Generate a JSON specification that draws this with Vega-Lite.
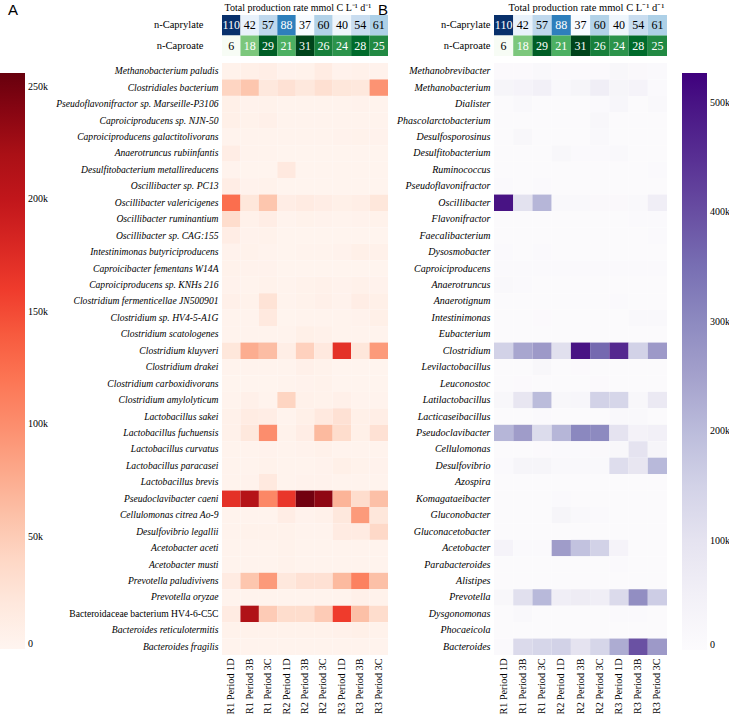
{
"$schema":"https://vega.github.io/schema/vega-lite/v6.json",
"padding":{"left":0,"top":2,"right":0,"bottom":0},
"config":{"font":"Liberation Serif","view":{"stroke":null},
"axis":{"labelFont":"Liberation Serif","titleFont":"Liberation Serif","labelColor":"#000","titleColor":"#000","ticks":false,"domain":false,"grid":false},
"legend":{"labelFont":"Liberation Serif","labelColor":"#000"},
"title":{"font":"Liberation Sans","fontWeight":"normal","fontSize":15,"color":"#000"}},
"datasets":{
"top":[
{"r":"n-Caprylate","p":"R1 Period 1D","v":110},{"r":"n-Caprylate","p":"R1 Period 3B","v":42},{"r":"n-Caprylate","p":"R1 Period 3C","v":57},{"r":"n-Caprylate","p":"R2 Period 1D","v":88},{"r":"n-Caprylate","p":"R2 Period 3B","v":37},{"r":"n-Caprylate","p":"R2 Period 3C","v":60},{"r":"n-Caprylate","p":"R3 Period 1D","v":40},{"r":"n-Caprylate","p":"R3 Period 3B","v":54},{"r":"n-Caprylate","p":"R3 Period 3C","v":61},
{"r":"n-Caproate","p":"R1 Period 1D","v":6},{"r":"n-Caproate","p":"R1 Period 3B","v":18},{"r":"n-Caproate","p":"R1 Period 3C","v":29},{"r":"n-Caproate","p":"R2 Period 1D","v":21},{"r":"n-Caproate","p":"R2 Period 3B","v":31},{"r":"n-Caproate","p":"R2 Period 3C","v":26},{"r":"n-Caproate","p":"R3 Period 1D","v":24},{"r":"n-Caproate","p":"R3 Period 3B","v":28},{"r":"n-Caproate","p":"R3 Period 3C","v":25}],
"a":[
{"sp":"Methanobacterium paludis","p":"R1 Period 1D","v":5},{"sp":"Methanobacterium paludis","p":"R1 Period 3B","v":8},{"sp":"Methanobacterium paludis","p":"R1 Period 3C","v":10},{"sp":"Methanobacterium paludis","p":"R2 Period 1D","v":4},{"sp":"Methanobacterium paludis","p":"R2 Period 3B","v":5},{"sp":"Methanobacterium paludis","p":"R2 Period 3C","v":14},{"sp":"Methanobacterium paludis","p":"R3 Period 1D","v":4},{"sp":"Methanobacterium paludis","p":"R3 Period 3B","v":6},{"sp":"Methanobacterium paludis","p":"R3 Period 3C","v":4},
{"sp":"Clostridiales bacterium","p":"R1 Period 1D","v":42},{"sp":"Clostridiales bacterium","p":"R1 Period 3B","v":55},{"sp":"Clostridiales bacterium","p":"R1 Period 3C","v":20},{"sp":"Clostridiales bacterium","p":"R2 Period 1D","v":30},{"sp":"Clostridiales bacterium","p":"R2 Period 3B","v":20},{"sp":"Clostridiales bacterium","p":"R2 Period 3C","v":32},{"sp":"Clostridiales bacterium","p":"R3 Period 1D","v":22},{"sp":"Clostridiales bacterium","p":"R3 Period 3B","v":20},{"sp":"Clostridiales bacterium","p":"R3 Period 3C","v":95},
{"sp":"Pseudoflavonifractor sp. Marseille-P3106","p":"R1 Period 1D","v":8},{"sp":"Pseudoflavonifractor sp. Marseille-P3106","p":"R1 Period 3B","v":4},{"sp":"Pseudoflavonifractor sp. Marseille-P3106","p":"R1 Period 3C","v":5},{"sp":"Pseudoflavonifractor sp. Marseille-P3106","p":"R2 Period 1D","v":3},{"sp":"Pseudoflavonifractor sp. Marseille-P3106","p":"R2 Period 3B","v":3},{"sp":"Pseudoflavonifractor sp. Marseille-P3106","p":"R2 Period 3C","v":3},{"sp":"Pseudoflavonifractor sp. Marseille-P3106","p":"R3 Period 1D","v":3},{"sp":"Pseudoflavonifractor sp. Marseille-P3106","p":"R3 Period 3B","v":4},{"sp":"Pseudoflavonifractor sp. Marseille-P3106","p":"R3 Period 3C","v":3},
{"sp":"Caproiciproducens sp. NJN-50","p":"R1 Period 1D","v":8},{"sp":"Caproiciproducens sp. NJN-50","p":"R1 Period 3B","v":5},{"sp":"Caproiciproducens sp. NJN-50","p":"R1 Period 3C","v":7},{"sp":"Caproiciproducens sp. NJN-50","p":"R2 Period 1D","v":3},{"sp":"Caproiciproducens sp. NJN-50","p":"R2 Period 3B","v":3},{"sp":"Caproiciproducens sp. NJN-50","p":"R2 Period 3C","v":3},{"sp":"Caproiciproducens sp. NJN-50","p":"R3 Period 1D","v":3},{"sp":"Caproiciproducens sp. NJN-50","p":"R3 Period 3B","v":3},{"sp":"Caproiciproducens sp. NJN-50","p":"R3 Period 3C","v":3},
{"sp":"Caproiciproducens galactitolivorans","p":"R1 Period 1D","v":3},{"sp":"Caproiciproducens galactitolivorans","p":"R1 Period 3B","v":3},{"sp":"Caproiciproducens galactitolivorans","p":"R1 Period 3C","v":3},{"sp":"Caproiciproducens galactitolivorans","p":"R2 Period 1D","v":3},{"sp":"Caproiciproducens galactitolivorans","p":"R2 Period 3B","v":3},{"sp":"Caproiciproducens galactitolivorans","p":"R2 Period 3C","v":3},{"sp":"Caproiciproducens galactitolivorans","p":"R3 Period 1D","v":4},{"sp":"Caproiciproducens galactitolivorans","p":"R3 Period 3B","v":5},{"sp":"Caproiciproducens galactitolivorans","p":"R3 Period 3C","v":4},
{"sp":"Anaerotruncus rubiinfantis","p":"R1 Period 1D","v":12},{"sp":"Anaerotruncus rubiinfantis","p":"R1 Period 3B","v":3},{"sp":"Anaerotruncus rubiinfantis","p":"R1 Period 3C","v":3},{"sp":"Anaerotruncus rubiinfantis","p":"R2 Period 1D","v":2},{"sp":"Anaerotruncus rubiinfantis","p":"R2 Period 3B","v":2},{"sp":"Anaerotruncus rubiinfantis","p":"R2 Period 3C","v":2},{"sp":"Anaerotruncus rubiinfantis","p":"R3 Period 1D","v":2},{"sp":"Anaerotruncus rubiinfantis","p":"R3 Period 3B","v":2},{"sp":"Anaerotruncus rubiinfantis","p":"R3 Period 3C","v":2},
{"sp":"Desulfitobacterium metallireducens","p":"R1 Period 1D","v":3},{"sp":"Desulfitobacterium metallireducens","p":"R1 Period 3B","v":2},{"sp":"Desulfitobacterium metallireducens","p":"R1 Period 3C","v":2},{"sp":"Desulfitobacterium metallireducens","p":"R2 Period 1D","v":18},{"sp":"Desulfitobacterium metallireducens","p":"R2 Period 3B","v":2},{"sp":"Desulfitobacterium metallireducens","p":"R2 Period 3C","v":2},{"sp":"Desulfitobacterium metallireducens","p":"R3 Period 1D","v":2},{"sp":"Desulfitobacterium metallireducens","p":"R3 Period 3B","v":2},{"sp":"Desulfitobacterium metallireducens","p":"R3 Period 3C","v":2},
{"sp":"Oscillibacter sp. PC13","p":"R1 Period 1D","v":12},{"sp":"Oscillibacter sp. PC13","p":"R1 Period 3B","v":4},{"sp":"Oscillibacter sp. PC13","p":"R1 Period 3C","v":5},{"sp":"Oscillibacter sp. PC13","p":"R2 Period 1D","v":2},{"sp":"Oscillibacter sp. PC13","p":"R2 Period 3B","v":2},{"sp":"Oscillibacter sp. PC13","p":"R2 Period 3C","v":2},{"sp":"Oscillibacter sp. PC13","p":"R3 Period 1D","v":2},{"sp":"Oscillibacter sp. PC13","p":"R3 Period 3B","v":2},{"sp":"Oscillibacter sp. PC13","p":"R3 Period 3C","v":2},
{"sp":"Oscillibacter valericigenes","p":"R1 Period 1D","v":125},{"sp":"Oscillibacter valericigenes","p":"R1 Period 3B","v":22},{"sp":"Oscillibacter valericigenes","p":"R1 Period 3C","v":55},{"sp":"Oscillibacter valericigenes","p":"R2 Period 1D","v":12},{"sp":"Oscillibacter valericigenes","p":"R2 Period 3B","v":15},{"sp":"Oscillibacter valericigenes","p":"R2 Period 3C","v":12},{"sp":"Oscillibacter valericigenes","p":"R3 Period 1D","v":8},{"sp":"Oscillibacter valericigenes","p":"R3 Period 3B","v":10},{"sp":"Oscillibacter valericigenes","p":"R3 Period 3C","v":22},
{"sp":"Oscillibacter ruminantium","p":"R1 Period 1D","v":35},{"sp":"Oscillibacter ruminantium","p":"R1 Period 3B","v":6},{"sp":"Oscillibacter ruminantium","p":"R1 Period 3C","v":12},{"sp":"Oscillibacter ruminantium","p":"R2 Period 1D","v":3},{"sp":"Oscillibacter ruminantium","p":"R2 Period 3B","v":5},{"sp":"Oscillibacter ruminantium","p":"R2 Period 3C","v":4},{"sp":"Oscillibacter ruminantium","p":"R3 Period 1D","v":3},{"sp":"Oscillibacter ruminantium","p":"R3 Period 3B","v":4},{"sp":"Oscillibacter ruminantium","p":"R3 Period 3C","v":5},
{"sp":"Oscillibacter sp. CAG:155","p":"R1 Period 1D","v":12},{"sp":"Oscillibacter sp. CAG:155","p":"R1 Period 3B","v":4},{"sp":"Oscillibacter sp. CAG:155","p":"R1 Period 3C","v":5},{"sp":"Oscillibacter sp. CAG:155","p":"R2 Period 1D","v":2},{"sp":"Oscillibacter sp. CAG:155","p":"R2 Period 3B","v":2},{"sp":"Oscillibacter sp. CAG:155","p":"R2 Period 3C","v":2},{"sp":"Oscillibacter sp. CAG:155","p":"R3 Period 1D","v":2},{"sp":"Oscillibacter sp. CAG:155","p":"R3 Period 3B","v":2},{"sp":"Oscillibacter sp. CAG:155","p":"R3 Period 3C","v":2},
{"sp":"Intestinimonas butyriciproducens","p":"R1 Period 1D","v":4},{"sp":"Intestinimonas butyriciproducens","p":"R1 Period 3B","v":5},{"sp":"Intestinimonas butyriciproducens","p":"R1 Period 3C","v":3},{"sp":"Intestinimonas butyriciproducens","p":"R2 Period 1D","v":2},{"sp":"Intestinimonas butyriciproducens","p":"R2 Period 3B","v":3},{"sp":"Intestinimonas butyriciproducens","p":"R2 Period 3C","v":3},{"sp":"Intestinimonas butyriciproducens","p":"R3 Period 1D","v":4},{"sp":"Intestinimonas butyriciproducens","p":"R3 Period 3B","v":8},{"sp":"Intestinimonas butyriciproducens","p":"R3 Period 3C","v":6},
{"sp":"Caproicibacter fementans W14A","p":"R1 Period 1D","v":5},{"sp":"Caproicibacter fementans W14A","p":"R1 Period 3B","v":4},{"sp":"Caproicibacter fementans W14A","p":"R1 Period 3C","v":4},{"sp":"Caproicibacter fementans W14A","p":"R2 Period 1D","v":2},{"sp":"Caproicibacter fementans W14A","p":"R2 Period 3B","v":2},{"sp":"Caproicibacter fementans W14A","p":"R2 Period 3C","v":2},{"sp":"Caproicibacter fementans W14A","p":"R3 Period 1D","v":2},{"sp":"Caproicibacter fementans W14A","p":"R3 Period 3B","v":2},{"sp":"Caproicibacter fementans W14A","p":"R3 Period 3C","v":2},
{"sp":"Caproiciproducens sp. KNHs 216","p":"R1 Period 1D","v":4},{"sp":"Caproiciproducens sp. KNHs 216","p":"R1 Period 3B","v":3},{"sp":"Caproiciproducens sp. KNHs 216","p":"R1 Period 3C","v":5},{"sp":"Caproiciproducens sp. KNHs 216","p":"R2 Period 1D","v":3},{"sp":"Caproiciproducens sp. KNHs 216","p":"R2 Period 3B","v":5},{"sp":"Caproiciproducens sp. KNHs 216","p":"R2 Period 3C","v":6},{"sp":"Caproiciproducens sp. KNHs 216","p":"R3 Period 1D","v":4},{"sp":"Caproiciproducens sp. KNHs 216","p":"R3 Period 3B","v":6},{"sp":"Caproiciproducens sp. KNHs 216","p":"R3 Period 3C","v":4},
{"sp":"Clostridium fermenticellae JN500901","p":"R1 Period 1D","v":7},{"sp":"Clostridium fermenticellae JN500901","p":"R1 Period 3B","v":5},{"sp":"Clostridium fermenticellae JN500901","p":"R1 Period 3C","v":28},{"sp":"Clostridium fermenticellae JN500901","p":"R2 Period 1D","v":3},{"sp":"Clostridium fermenticellae JN500901","p":"R2 Period 3B","v":5},{"sp":"Clostridium fermenticellae JN500901","p":"R2 Period 3C","v":7},{"sp":"Clostridium fermenticellae JN500901","p":"R3 Period 1D","v":4},{"sp":"Clostridium fermenticellae JN500901","p":"R3 Period 3B","v":12},{"sp":"Clostridium fermenticellae JN500901","p":"R3 Period 3C","v":8},
{"sp":"Clostridium sp. HV4-5-A1G","p":"R1 Period 1D","v":3},{"sp":"Clostridium sp. HV4-5-A1G","p":"R1 Period 3B","v":3},{"sp":"Clostridium sp. HV4-5-A1G","p":"R1 Period 3C","v":18},{"sp":"Clostridium sp. HV4-5-A1G","p":"R2 Period 1D","v":2},{"sp":"Clostridium sp. HV4-5-A1G","p":"R2 Period 3B","v":3},{"sp":"Clostridium sp. HV4-5-A1G","p":"R2 Period 3C","v":3},{"sp":"Clostridium sp. HV4-5-A1G","p":"R3 Period 1D","v":3},{"sp":"Clostridium sp. HV4-5-A1G","p":"R3 Period 3B","v":4},{"sp":"Clostridium sp. HV4-5-A1G","p":"R3 Period 3C","v":8},
{"sp":"Clostridium scatologenes","p":"R1 Period 1D","v":3},{"sp":"Clostridium scatologenes","p":"R1 Period 3B","v":3},{"sp":"Clostridium scatologenes","p":"R1 Period 3C","v":3},{"sp":"Clostridium scatologenes","p":"R2 Period 1D","v":3},{"sp":"Clostridium scatologenes","p":"R2 Period 3B","v":8},{"sp":"Clostridium scatologenes","p":"R2 Period 3C","v":6},{"sp":"Clostridium scatologenes","p":"R3 Period 1D","v":3},{"sp":"Clostridium scatologenes","p":"R3 Period 3B","v":3},{"sp":"Clostridium scatologenes","p":"R3 Period 3C","v":3},
{"sp":"Clostridium kluyveri","p":"R1 Period 1D","v":22},{"sp":"Clostridium kluyveri","p":"R1 Period 3B","v":75},{"sp":"Clostridium kluyveri","p":"R1 Period 3C","v":62},{"sp":"Clostridium kluyveri","p":"R2 Period 1D","v":10},{"sp":"Clostridium kluyveri","p":"R2 Period 3B","v":45},{"sp":"Clostridium kluyveri","p":"R2 Period 3C","v":18},{"sp":"Clostridium kluyveri","p":"R3 Period 1D","v":170},{"sp":"Clostridium kluyveri","p":"R3 Period 3B","v":22},{"sp":"Clostridium kluyveri","p":"R3 Period 3C","v":90},
{"sp":"Clostridium drakei","p":"R1 Period 1D","v":3},{"sp":"Clostridium drakei","p":"R1 Period 3B","v":3},{"sp":"Clostridium drakei","p":"R1 Period 3C","v":3},{"sp":"Clostridium drakei","p":"R2 Period 1D","v":3},{"sp":"Clostridium drakei","p":"R2 Period 3B","v":7},{"sp":"Clostridium drakei","p":"R2 Period 3C","v":5},{"sp":"Clostridium drakei","p":"R3 Period 1D","v":2},{"sp":"Clostridium drakei","p":"R3 Period 3B","v":2},{"sp":"Clostridium drakei","p":"R3 Period 3C","v":2},
{"sp":"Clostridium carboxidivorans","p":"R1 Period 1D","v":2},{"sp":"Clostridium carboxidivorans","p":"R1 Period 3B","v":2},{"sp":"Clostridium carboxidivorans","p":"R1 Period 3C","v":2},{"sp":"Clostridium carboxidivorans","p":"R2 Period 1D","v":3},{"sp":"Clostridium carboxidivorans","p":"R2 Period 3B","v":4},{"sp":"Clostridium carboxidivorans","p":"R2 Period 3C","v":5},{"sp":"Clostridium carboxidivorans","p":"R3 Period 1D","v":2},{"sp":"Clostridium carboxidivorans","p":"R3 Period 3B","v":2},{"sp":"Clostridium carboxidivorans","p":"R3 Period 3C","v":2},
{"sp":"Clostridium amylolyticum","p":"R1 Period 1D","v":3},{"sp":"Clostridium amylolyticum","p":"R1 Period 3B","v":7},{"sp":"Clostridium amylolyticum","p":"R1 Period 3C","v":3},{"sp":"Clostridium amylolyticum","p":"R2 Period 1D","v":42},{"sp":"Clostridium amylolyticum","p":"R2 Period 3B","v":6},{"sp":"Clostridium amylolyticum","p":"R2 Period 3C","v":5},{"sp":"Clostridium amylolyticum","p":"R3 Period 1D","v":7},{"sp":"Clostridium amylolyticum","p":"R3 Period 3B","v":3},{"sp":"Clostridium amylolyticum","p":"R3 Period 3C","v":3},
{"sp":"Lactobacillus sakei","p":"R1 Period 1D","v":6},{"sp":"Lactobacillus sakei","p":"R1 Period 3B","v":14},{"sp":"Lactobacillus sakei","p":"R1 Period 3C","v":12},{"sp":"Lactobacillus sakei","p":"R2 Period 1D","v":3},{"sp":"Lactobacillus sakei","p":"R2 Period 3B","v":8},{"sp":"Lactobacillus sakei","p":"R2 Period 3C","v":18},{"sp":"Lactobacillus sakei","p":"R3 Period 1D","v":30},{"sp":"Lactobacillus sakei","p":"R3 Period 3B","v":8},{"sp":"Lactobacillus sakei","p":"R3 Period 3C","v":10},
{"sp":"Lactobacillus fuchuensis","p":"R1 Period 1D","v":6},{"sp":"Lactobacillus fuchuensis","p":"R1 Period 3B","v":20},{"sp":"Lactobacillus fuchuensis","p":"R1 Period 3C","v":100},{"sp":"Lactobacillus fuchuensis","p":"R2 Period 1D","v":5},{"sp":"Lactobacillus fuchuensis","p":"R2 Period 3B","v":12},{"sp":"Lactobacillus fuchuensis","p":"R2 Period 3C","v":65},{"sp":"Lactobacillus fuchuensis","p":"R3 Period 1D","v":35},{"sp":"Lactobacillus fuchuensis","p":"R3 Period 3B","v":8},{"sp":"Lactobacillus fuchuensis","p":"R3 Period 3C","v":30},
{"sp":"Lactobacillus curvatus","p":"R1 Period 1D","v":3},{"sp":"Lactobacillus curvatus","p":"R1 Period 3B","v":3},{"sp":"Lactobacillus curvatus","p":"R1 Period 3C","v":4},{"sp":"Lactobacillus curvatus","p":"R2 Period 1D","v":3},{"sp":"Lactobacillus curvatus","p":"R2 Period 3B","v":4},{"sp":"Lactobacillus curvatus","p":"R2 Period 3C","v":6},{"sp":"Lactobacillus curvatus","p":"R3 Period 1D","v":3},{"sp":"Lactobacillus curvatus","p":"R3 Period 3B","v":3},{"sp":"Lactobacillus curvatus","p":"R3 Period 3C","v":3},
{"sp":"Lactobacillus paracasei","p":"R1 Period 1D","v":3},{"sp":"Lactobacillus paracasei","p":"R1 Period 3B","v":3},{"sp":"Lactobacillus paracasei","p":"R1 Period 3C","v":5},{"sp":"Lactobacillus paracasei","p":"R2 Period 1D","v":3},{"sp":"Lactobacillus paracasei","p":"R2 Period 3B","v":3},{"sp":"Lactobacillus paracasei","p":"R2 Period 3C","v":4},{"sp":"Lactobacillus paracasei","p":"R3 Period 1D","v":8},{"sp":"Lactobacillus paracasei","p":"R3 Period 3B","v":5},{"sp":"Lactobacillus paracasei","p":"R3 Period 3C","v":4},
{"sp":"Lactobacillus brevis","p":"R1 Period 1D","v":3},{"sp":"Lactobacillus brevis","p":"R1 Period 3B","v":4},{"sp":"Lactobacillus brevis","p":"R1 Period 3C","v":18},{"sp":"Lactobacillus brevis","p":"R2 Period 1D","v":3},{"sp":"Lactobacillus brevis","p":"R2 Period 3B","v":4},{"sp":"Lactobacillus brevis","p":"R2 Period 3C","v":4},{"sp":"Lactobacillus brevis","p":"R3 Period 1D","v":3},{"sp":"Lactobacillus brevis","p":"R3 Period 3B","v":3},{"sp":"Lactobacillus brevis","p":"R3 Period 3C","v":3},
{"sp":"Pseudoclavibacter caeni","p":"R1 Period 1D","v":170},{"sp":"Pseudoclavibacter caeni","p":"R1 Period 3B","v":210},{"sp":"Pseudoclavibacter caeni","p":"R1 Period 3C","v":105},{"sp":"Pseudoclavibacter caeni","p":"R2 Period 1D","v":165},{"sp":"Pseudoclavibacter caeni","p":"R2 Period 3B","v":250},{"sp":"Pseudoclavibacter caeni","p":"R2 Period 3C","v":235},{"sp":"Pseudoclavibacter caeni","p":"R3 Period 1D","v":70},{"sp":"Pseudoclavibacter caeni","p":"R3 Period 3B","v":35},{"sp":"Pseudoclavibacter caeni","p":"R3 Period 3C","v":60},
{"sp":"Cellulomonas citrea Ao-9","p":"R1 Period 1D","v":3},{"sp":"Cellulomonas citrea Ao-9","p":"R1 Period 3B","v":3},{"sp":"Cellulomonas citrea Ao-9","p":"R1 Period 3C","v":3},{"sp":"Cellulomonas citrea Ao-9","p":"R2 Period 1D","v":12},{"sp":"Cellulomonas citrea Ao-9","p":"R2 Period 3B","v":4},{"sp":"Cellulomonas citrea Ao-9","p":"R2 Period 3C","v":6},{"sp":"Cellulomonas citrea Ao-9","p":"R3 Period 1D","v":20},{"sp":"Cellulomonas citrea Ao-9","p":"R3 Period 3B","v":90},{"sp":"Cellulomonas citrea Ao-9","p":"R3 Period 3C","v":22},
{"sp":"Desulfovibrio legallii","p":"R1 Period 1D","v":3},{"sp":"Desulfovibrio legallii","p":"R1 Period 3B","v":5},{"sp":"Desulfovibrio legallii","p":"R1 Period 3C","v":5},{"sp":"Desulfovibrio legallii","p":"R2 Period 1D","v":5},{"sp":"Desulfovibrio legallii","p":"R2 Period 3B","v":3},{"sp":"Desulfovibrio legallii","p":"R2 Period 3C","v":3},{"sp":"Desulfovibrio legallii","p":"R3 Period 1D","v":15},{"sp":"Desulfovibrio legallii","p":"R3 Period 3B","v":15},{"sp":"Desulfovibrio legallii","p":"R3 Period 3C","v":38},
{"sp":"Acetobacter aceti","p":"R1 Period 1D","v":3},{"sp":"Acetobacter aceti","p":"R1 Period 3B","v":3},{"sp":"Acetobacter aceti","p":"R1 Period 3C","v":3},{"sp":"Acetobacter aceti","p":"R2 Period 1D","v":5},{"sp":"Acetobacter aceti","p":"R2 Period 3B","v":3},{"sp":"Acetobacter aceti","p":"R2 Period 3C","v":3},{"sp":"Acetobacter aceti","p":"R3 Period 1D","v":3},{"sp":"Acetobacter aceti","p":"R3 Period 3B","v":3},{"sp":"Acetobacter aceti","p":"R3 Period 3C","v":3},
{"sp":"Acetobacter musti","p":"R1 Period 1D","v":3},{"sp":"Acetobacter musti","p":"R1 Period 3B","v":3},{"sp":"Acetobacter musti","p":"R1 Period 3C","v":3},{"sp":"Acetobacter musti","p":"R2 Period 1D","v":5},{"sp":"Acetobacter musti","p":"R2 Period 3B","v":3},{"sp":"Acetobacter musti","p":"R2 Period 3C","v":3},{"sp":"Acetobacter musti","p":"R3 Period 1D","v":3},{"sp":"Acetobacter musti","p":"R3 Period 3B","v":3},{"sp":"Acetobacter musti","p":"R3 Period 3C","v":3},
{"sp":"Prevotella paludivivens","p":"R1 Period 1D","v":15},{"sp":"Prevotella paludivivens","p":"R1 Period 3B","v":55},{"sp":"Prevotella paludivivens","p":"R1 Period 3C","v":90},{"sp":"Prevotella paludivivens","p":"R2 Period 1D","v":20},{"sp":"Prevotella paludivivens","p":"R2 Period 3B","v":30},{"sp":"Prevotella paludivivens","p":"R2 Period 3C","v":30},{"sp":"Prevotella paludivivens","p":"R3 Period 1D","v":65},{"sp":"Prevotella paludivivens","p":"R3 Period 3B","v":110},{"sp":"Prevotella paludivivens","p":"R3 Period 3C","v":60},
{"sp":"Prevotella oryzae","p":"R1 Period 1D","v":3},{"sp":"Prevotella oryzae","p":"R1 Period 3B","v":3},{"sp":"Prevotella oryzae","p":"R1 Period 3C","v":3},{"sp":"Prevotella oryzae","p":"R2 Period 1D","v":3},{"sp":"Prevotella oryzae","p":"R2 Period 3B","v":3},{"sp":"Prevotella oryzae","p":"R2 Period 3C","v":3},{"sp":"Prevotella oryzae","p":"R3 Period 1D","v":3},{"sp":"Prevotella oryzae","p":"R3 Period 3B","v":7},{"sp":"Prevotella oryzae","p":"R3 Period 3C","v":5},
{"sp":"Bacteroidaceae bacterium HV4-6-C5C","p":"R1 Period 1D","v":15},{"sp":"Bacteroidaceae bacterium HV4-6-C5C","p":"R1 Period 3B","v":215},{"sp":"Bacteroidaceae bacterium HV4-6-C5C","p":"R1 Period 3C","v":50},{"sp":"Bacteroidaceae bacterium HV4-6-C5C","p":"R2 Period 1D","v":35},{"sp":"Bacteroidaceae bacterium HV4-6-C5C","p":"R2 Period 3B","v":35},{"sp":"Bacteroidaceae bacterium HV4-6-C5C","p":"R2 Period 3C","v":50},{"sp":"Bacteroidaceae bacterium HV4-6-C5C","p":"R3 Period 1D","v":160},{"sp":"Bacteroidaceae bacterium HV4-6-C5C","p":"R3 Period 3B","v":60},{"sp":"Bacteroidaceae bacterium HV4-6-C5C","p":"R3 Period 3C","v":35},
{"sp":"Bacteroides reticulotermitis","p":"R1 Period 1D","v":5},{"sp":"Bacteroides reticulotermitis","p":"R1 Period 3B","v":5},{"sp":"Bacteroides reticulotermitis","p":"R1 Period 3C","v":5},{"sp":"Bacteroides reticulotermitis","p":"R2 Period 1D","v":5},{"sp":"Bacteroides reticulotermitis","p":"R2 Period 3B","v":5},{"sp":"Bacteroides reticulotermitis","p":"R2 Period 3C","v":5},{"sp":"Bacteroides reticulotermitis","p":"R3 Period 1D","v":6},{"sp":"Bacteroides reticulotermitis","p":"R3 Period 3B","v":8},{"sp":"Bacteroides reticulotermitis","p":"R3 Period 3C","v":5},
{"sp":"Bacteroides fragilis","p":"R1 Period 1D","v":3},{"sp":"Bacteroides fragilis","p":"R1 Period 3B","v":3},{"sp":"Bacteroides fragilis","p":"R1 Period 3C","v":3},{"sp":"Bacteroides fragilis","p":"R2 Period 1D","v":3},{"sp":"Bacteroides fragilis","p":"R2 Period 3B","v":3},{"sp":"Bacteroides fragilis","p":"R2 Period 3C","v":3},{"sp":"Bacteroides fragilis","p":"R3 Period 1D","v":3},{"sp":"Bacteroides fragilis","p":"R3 Period 3B","v":3},{"sp":"Bacteroides fragilis","p":"R3 Period 3C","v":3}],
"b":[
{"sp":"Methanobrevibacter","p":"R1 Period 1D","v":8},{"sp":"Methanobrevibacter","p":"R1 Period 3B","v":8},{"sp":"Methanobrevibacter","p":"R1 Period 3C","v":15},{"sp":"Methanobrevibacter","p":"R2 Period 1D","v":8},{"sp":"Methanobrevibacter","p":"R2 Period 3B","v":8},{"sp":"Methanobrevibacter","p":"R2 Period 3C","v":8},{"sp":"Methanobrevibacter","p":"R3 Period 1D","v":20},{"sp":"Methanobrevibacter","p":"R3 Period 3B","v":12},{"sp":"Methanobrevibacter","p":"R3 Period 3C","v":10},
{"sp":"Methanobacterium","p":"R1 Period 1D","v":30},{"sp":"Methanobacterium","p":"R1 Period 3B","v":35},{"sp":"Methanobacterium","p":"R1 Period 3C","v":50},{"sp":"Methanobacterium","p":"R2 Period 1D","v":15},{"sp":"Methanobacterium","p":"R2 Period 3B","v":30},{"sp":"Methanobacterium","p":"R2 Period 3C","v":60},{"sp":"Methanobacterium","p":"R3 Period 1D","v":30},{"sp":"Methanobacterium","p":"R3 Period 3B","v":35},{"sp":"Methanobacterium","p":"R3 Period 3C","v":10},
{"sp":"Dialister","p":"R1 Period 1D","v":5},{"sp":"Dialister","p":"R1 Period 3B","v":15},{"sp":"Dialister","p":"R1 Period 3C","v":5},{"sp":"Dialister","p":"R2 Period 1D","v":5},{"sp":"Dialister","p":"R2 Period 3B","v":5},{"sp":"Dialister","p":"R2 Period 3C","v":10},{"sp":"Dialister","p":"R3 Period 1D","v":25},{"sp":"Dialister","p":"R3 Period 3B","v":5},{"sp":"Dialister","p":"R3 Period 3C","v":15},
{"sp":"Phascolarctobacterium","p":"R1 Period 1D","v":5},{"sp":"Phascolarctobacterium","p":"R1 Period 3B","v":5},{"sp":"Phascolarctobacterium","p":"R1 Period 3C","v":5},{"sp":"Phascolarctobacterium","p":"R2 Period 1D","v":5},{"sp":"Phascolarctobacterium","p":"R2 Period 3B","v":5},{"sp":"Phascolarctobacterium","p":"R2 Period 3C","v":20},{"sp":"Phascolarctobacterium","p":"R3 Period 1D","v":5},{"sp":"Phascolarctobacterium","p":"R3 Period 3B","v":5},{"sp":"Phascolarctobacterium","p":"R3 Period 3C","v":5},
{"sp":"Desulfosporosinus","p":"R1 Period 1D","v":5},{"sp":"Desulfosporosinus","p":"R1 Period 3B","v":20},{"sp":"Desulfosporosinus","p":"R1 Period 3C","v":5},{"sp":"Desulfosporosinus","p":"R2 Period 1D","v":5},{"sp":"Desulfosporosinus","p":"R2 Period 3B","v":5},{"sp":"Desulfosporosinus","p":"R2 Period 3C","v":15},{"sp":"Desulfosporosinus","p":"R3 Period 1D","v":5},{"sp":"Desulfosporosinus","p":"R3 Period 3B","v":5},{"sp":"Desulfosporosinus","p":"R3 Period 3C","v":5},
{"sp":"Desulfitobacterium","p":"R1 Period 1D","v":5},{"sp":"Desulfitobacterium","p":"R1 Period 3B","v":5},{"sp":"Desulfitobacterium","p":"R1 Period 3C","v":5},{"sp":"Desulfitobacterium","p":"R2 Period 1D","v":20},{"sp":"Desulfitobacterium","p":"R2 Period 3B","v":10},{"sp":"Desulfitobacterium","p":"R2 Period 3C","v":10},{"sp":"Desulfitobacterium","p":"R3 Period 1D","v":15},{"sp":"Desulfitobacterium","p":"R3 Period 3B","v":5},{"sp":"Desulfitobacterium","p":"R3 Period 3C","v":5},
{"sp":"Ruminococcus","p":"R1 Period 1D","v":5},{"sp":"Ruminococcus","p":"R1 Period 3B","v":5},{"sp":"Ruminococcus","p":"R1 Period 3C","v":5},{"sp":"Ruminococcus","p":"R2 Period 1D","v":5},{"sp":"Ruminococcus","p":"R2 Period 3B","v":5},{"sp":"Ruminococcus","p":"R2 Period 3C","v":5},{"sp":"Ruminococcus","p":"R3 Period 1D","v":5},{"sp":"Ruminococcus","p":"R3 Period 3B","v":5},{"sp":"Ruminococcus","p":"R3 Period 3C","v":10},
{"sp":"Pseudoflavonifractor","p":"R1 Period 1D","v":10},{"sp":"Pseudoflavonifractor","p":"R1 Period 3B","v":5},{"sp":"Pseudoflavonifractor","p":"R1 Period 3C","v":10},{"sp":"Pseudoflavonifractor","p":"R2 Period 1D","v":5},{"sp":"Pseudoflavonifractor","p":"R2 Period 3B","v":5},{"sp":"Pseudoflavonifractor","p":"R2 Period 3C","v":5},{"sp":"Pseudoflavonifractor","p":"R3 Period 1D","v":5},{"sp":"Pseudoflavonifractor","p":"R3 Period 3B","v":5},{"sp":"Pseudoflavonifractor","p":"R3 Period 3C","v":5},
{"sp":"Oscillibacter","p":"R1 Period 1D","v":500},{"sp":"Oscillibacter","p":"R1 Period 3B","v":105},{"sp":"Oscillibacter","p":"R1 Period 3C","v":210},{"sp":"Oscillibacter","p":"R2 Period 1D","v":15},{"sp":"Oscillibacter","p":"R2 Period 3B","v":15},{"sp":"Oscillibacter","p":"R2 Period 3C","v":12},{"sp":"Oscillibacter","p":"R3 Period 1D","v":12},{"sp":"Oscillibacter","p":"R3 Period 3B","v":15},{"sp":"Oscillibacter","p":"R3 Period 3C","v":60},
{"sp":"Flavonifractor","p":"R1 Period 1D","v":5},{"sp":"Flavonifractor","p":"R1 Period 3B","v":5},{"sp":"Flavonifractor","p":"R1 Period 3C","v":5},{"sp":"Flavonifractor","p":"R2 Period 1D","v":5},{"sp":"Flavonifractor","p":"R2 Period 3B","v":5},{"sp":"Flavonifractor","p":"R2 Period 3C","v":5},{"sp":"Flavonifractor","p":"R3 Period 1D","v":5},{"sp":"Flavonifractor","p":"R3 Period 3B","v":10},{"sp":"Flavonifractor","p":"R3 Period 3C","v":10},
{"sp":"Faecalibacterium","p":"R1 Period 1D","v":5},{"sp":"Faecalibacterium","p":"R1 Period 3B","v":5},{"sp":"Faecalibacterium","p":"R1 Period 3C","v":5},{"sp":"Faecalibacterium","p":"R2 Period 1D","v":5},{"sp":"Faecalibacterium","p":"R2 Period 3B","v":5},{"sp":"Faecalibacterium","p":"R2 Period 3C","v":5},{"sp":"Faecalibacterium","p":"R3 Period 1D","v":5},{"sp":"Faecalibacterium","p":"R3 Period 3B","v":5},{"sp":"Faecalibacterium","p":"R3 Period 3C","v":10},
{"sp":"Dysosmobacter","p":"R1 Period 1D","v":10},{"sp":"Dysosmobacter","p":"R1 Period 3B","v":5},{"sp":"Dysosmobacter","p":"R1 Period 3C","v":10},{"sp":"Dysosmobacter","p":"R2 Period 1D","v":5},{"sp":"Dysosmobacter","p":"R2 Period 3B","v":5},{"sp":"Dysosmobacter","p":"R2 Period 3C","v":5},{"sp":"Dysosmobacter","p":"R3 Period 1D","v":5},{"sp":"Dysosmobacter","p":"R3 Period 3B","v":5},{"sp":"Dysosmobacter","p":"R3 Period 3C","v":5},
{"sp":"Caproiciproducens","p":"R1 Period 1D","v":10},{"sp":"Caproiciproducens","p":"R1 Period 3B","v":10},{"sp":"Caproiciproducens","p":"R1 Period 3C","v":10},{"sp":"Caproiciproducens","p":"R2 Period 1D","v":10},{"sp":"Caproiciproducens","p":"R2 Period 3B","v":10},{"sp":"Caproiciproducens","p":"R2 Period 3C","v":10},{"sp":"Caproiciproducens","p":"R3 Period 1D","v":10},{"sp":"Caproiciproducens","p":"R3 Period 3B","v":10},{"sp":"Caproiciproducens","p":"R3 Period 3C","v":10},
{"sp":"Anaerotruncus","p":"R1 Period 1D","v":15},{"sp":"Anaerotruncus","p":"R1 Period 3B","v":10},{"sp":"Anaerotruncus","p":"R1 Period 3C","v":5},{"sp":"Anaerotruncus","p":"R2 Period 1D","v":5},{"sp":"Anaerotruncus","p":"R2 Period 3B","v":5},{"sp":"Anaerotruncus","p":"R2 Period 3C","v":5},{"sp":"Anaerotruncus","p":"R3 Period 1D","v":5},{"sp":"Anaerotruncus","p":"R3 Period 3B","v":5},{"sp":"Anaerotruncus","p":"R3 Period 3C","v":5},
{"sp":"Anaerotignum","p":"R1 Period 1D","v":5},{"sp":"Anaerotignum","p":"R1 Period 3B","v":5},{"sp":"Anaerotignum","p":"R1 Period 3C","v":5},{"sp":"Anaerotignum","p":"R2 Period 1D","v":5},{"sp":"Anaerotignum","p":"R2 Period 3B","v":5},{"sp":"Anaerotignum","p":"R2 Period 3C","v":5},{"sp":"Anaerotignum","p":"R3 Period 1D","v":10},{"sp":"Anaerotignum","p":"R3 Period 3B","v":5},{"sp":"Anaerotignum","p":"R3 Period 3C","v":5},
{"sp":"Intestinimonas","p":"R1 Period 1D","v":5},{"sp":"Intestinimonas","p":"R1 Period 3B","v":5},{"sp":"Intestinimonas","p":"R1 Period 3C","v":8},{"sp":"Intestinimonas","p":"R2 Period 1D","v":5},{"sp":"Intestinimonas","p":"R2 Period 3B","v":5},{"sp":"Intestinimonas","p":"R2 Period 3C","v":5},{"sp":"Intestinimonas","p":"R3 Period 1D","v":5},{"sp":"Intestinimonas","p":"R3 Period 3B","v":15},{"sp":"Intestinimonas","p":"R3 Period 3C","v":15},
{"sp":"Eubacterium","p":"R1 Period 1D","v":5},{"sp":"Eubacterium","p":"R1 Period 3B","v":5},{"sp":"Eubacterium","p":"R1 Period 3C","v":5},{"sp":"Eubacterium","p":"R2 Period 1D","v":5},{"sp":"Eubacterium","p":"R2 Period 3B","v":5},{"sp":"Eubacterium","p":"R2 Period 3C","v":5},{"sp":"Eubacterium","p":"R3 Period 1D","v":5},{"sp":"Eubacterium","p":"R3 Period 3B","v":5},{"sp":"Eubacterium","p":"R3 Period 3C","v":5},
{"sp":"Clostridium","p":"R1 Period 1D","v":150},{"sp":"Clostridium","p":"R1 Period 3B","v":240},{"sp":"Clostridium","p":"R1 Period 3C","v":265},{"sp":"Clostridium","p":"R2 Period 1D","v":110},{"sp":"Clostridium","p":"R2 Period 3B","v":500},{"sp":"Clostridium","p":"R2 Period 3C","v":360},{"sp":"Clostridium","p":"R3 Period 1D","v":460},{"sp":"Clostridium","p":"R3 Period 3B","v":150},{"sp":"Clostridium","p":"R3 Period 3C","v":265},
{"sp":"Levilactobacillus","p":"R1 Period 1D","v":5},{"sp":"Levilactobacillus","p":"R1 Period 3B","v":5},{"sp":"Levilactobacillus","p":"R1 Period 3C","v":20},{"sp":"Levilactobacillus","p":"R2 Period 1D","v":5},{"sp":"Levilactobacillus","p":"R2 Period 3B","v":8},{"sp":"Levilactobacillus","p":"R2 Period 3C","v":5},{"sp":"Levilactobacillus","p":"R3 Period 1D","v":5},{"sp":"Levilactobacillus","p":"R3 Period 3B","v":5},{"sp":"Levilactobacillus","p":"R3 Period 3C","v":5},
{"sp":"Leuconostoc","p":"R1 Period 1D","v":5},{"sp":"Leuconostoc","p":"R1 Period 3B","v":8},{"sp":"Leuconostoc","p":"R1 Period 3C","v":5},{"sp":"Leuconostoc","p":"R2 Period 1D","v":5},{"sp":"Leuconostoc","p":"R2 Period 3B","v":5},{"sp":"Leuconostoc","p":"R2 Period 3C","v":8},{"sp":"Leuconostoc","p":"R3 Period 1D","v":5},{"sp":"Leuconostoc","p":"R3 Period 3B","v":5},{"sp":"Leuconostoc","p":"R3 Period 3C","v":5},
{"sp":"Latilactobacillus","p":"R1 Period 1D","v":20},{"sp":"Latilactobacillus","p":"R1 Period 3B","v":90},{"sp":"Latilactobacillus","p":"R1 Period 3C","v":200},{"sp":"Latilactobacillus","p":"R2 Period 1D","v":20},{"sp":"Latilactobacillus","p":"R2 Period 3B","v":25},{"sp":"Latilactobacillus","p":"R2 Period 3C","v":150},{"sp":"Latilactobacillus","p":"R3 Period 1D","v":140},{"sp":"Latilactobacillus","p":"R3 Period 3B","v":20},{"sp":"Latilactobacillus","p":"R3 Period 3C","v":80},
{"sp":"Lacticaseibacillus","p":"R1 Period 1D","v":5},{"sp":"Lacticaseibacillus","p":"R1 Period 3B","v":5},{"sp":"Lacticaseibacillus","p":"R1 Period 3C","v":10},{"sp":"Lacticaseibacillus","p":"R2 Period 1D","v":5},{"sp":"Lacticaseibacillus","p":"R2 Period 3B","v":5},{"sp":"Lacticaseibacillus","p":"R2 Period 3C","v":5},{"sp":"Lacticaseibacillus","p":"R3 Period 1D","v":15},{"sp":"Lacticaseibacillus","p":"R3 Period 3B","v":15},{"sp":"Lacticaseibacillus","p":"R3 Period 3C","v":5},
{"sp":"Pseudoclavibacter","p":"R1 Period 1D","v":210},{"sp":"Pseudoclavibacter","p":"R1 Period 3B","v":260},{"sp":"Pseudoclavibacter","p":"R1 Period 3C","v":125},{"sp":"Pseudoclavibacter","p":"R2 Period 1D","v":210},{"sp":"Pseudoclavibacter","p":"R2 Period 3B","v":305},{"sp":"Pseudoclavibacter","p":"R2 Period 3C","v":300},{"sp":"Pseudoclavibacter","p":"R3 Period 1D","v":100},{"sp":"Pseudoclavibacter","p":"R3 Period 3B","v":40},{"sp":"Pseudoclavibacter","p":"R3 Period 3C","v":50},
{"sp":"Cellulomonas","p":"R1 Period 1D","v":5},{"sp":"Cellulomonas","p":"R1 Period 3B","v":5},{"sp":"Cellulomonas","p":"R1 Period 3C","v":8},{"sp":"Cellulomonas","p":"R2 Period 1D","v":10},{"sp":"Cellulomonas","p":"R2 Period 3B","v":10},{"sp":"Cellulomonas","p":"R2 Period 3C","v":12},{"sp":"Cellulomonas","p":"R3 Period 1D","v":20},{"sp":"Cellulomonas","p":"R3 Period 3B","v":100},{"sp":"Cellulomonas","p":"R3 Period 3C","v":30},
{"sp":"Desulfovibrio","p":"R1 Period 1D","v":10},{"sp":"Desulfovibrio","p":"R1 Period 3B","v":30},{"sp":"Desulfovibrio","p":"R1 Period 3C","v":30},{"sp":"Desulfovibrio","p":"R2 Period 1D","v":15},{"sp":"Desulfovibrio","p":"R2 Period 3B","v":15},{"sp":"Desulfovibrio","p":"R2 Period 3C","v":15},{"sp":"Desulfovibrio","p":"R3 Period 1D","v":120},{"sp":"Desulfovibrio","p":"R3 Period 3B","v":90},{"sp":"Desulfovibrio","p":"R3 Period 3C","v":205},
{"sp":"Azospira","p":"R1 Period 1D","v":5},{"sp":"Azospira","p":"R1 Period 3B","v":5},{"sp":"Azospira","p":"R1 Period 3C","v":5},{"sp":"Azospira","p":"R2 Period 1D","v":5},{"sp":"Azospira","p":"R2 Period 3B","v":5},{"sp":"Azospira","p":"R2 Period 3C","v":5},{"sp":"Azospira","p":"R3 Period 1D","v":5},{"sp":"Azospira","p":"R3 Period 3B","v":5},{"sp":"Azospira","p":"R3 Period 3C","v":5},
{"sp":"Komagataeibacter","p":"R1 Period 1D","v":5},{"sp":"Komagataeibacter","p":"R1 Period 3B","v":5},{"sp":"Komagataeibacter","p":"R1 Period 3C","v":5},{"sp":"Komagataeibacter","p":"R2 Period 1D","v":10},{"sp":"Komagataeibacter","p":"R2 Period 3B","v":5},{"sp":"Komagataeibacter","p":"R2 Period 3C","v":5},{"sp":"Komagataeibacter","p":"R3 Period 1D","v":5},{"sp":"Komagataeibacter","p":"R3 Period 3B","v":5},{"sp":"Komagataeibacter","p":"R3 Period 3C","v":5},
{"sp":"Gluconobacter","p":"R1 Period 1D","v":5},{"sp":"Gluconobacter","p":"R1 Period 3B","v":5},{"sp":"Gluconobacter","p":"R1 Period 3C","v":5},{"sp":"Gluconobacter","p":"R2 Period 1D","v":30},{"sp":"Gluconobacter","p":"R2 Period 3B","v":15},{"sp":"Gluconobacter","p":"R2 Period 3C","v":10},{"sp":"Gluconobacter","p":"R3 Period 1D","v":5},{"sp":"Gluconobacter","p":"R3 Period 3B","v":5},{"sp":"Gluconobacter","p":"R3 Period 3C","v":5},
{"sp":"Gluconacetobacter","p":"R1 Period 1D","v":5},{"sp":"Gluconacetobacter","p":"R1 Period 3B","v":5},{"sp":"Gluconacetobacter","p":"R1 Period 3C","v":5},{"sp":"Gluconacetobacter","p":"R2 Period 1D","v":5},{"sp":"Gluconacetobacter","p":"R2 Period 3B","v":5},{"sp":"Gluconacetobacter","p":"R2 Period 3C","v":5},{"sp":"Gluconacetobacter","p":"R3 Period 1D","v":5},{"sp":"Gluconacetobacter","p":"R3 Period 3B","v":5},{"sp":"Gluconacetobacter","p":"R3 Period 3C","v":5},
{"sp":"Acetobacter","p":"R1 Period 1D","v":35},{"sp":"Acetobacter","p":"R1 Period 3B","v":10},{"sp":"Acetobacter","p":"R1 Period 3C","v":10},{"sp":"Acetobacter","p":"R2 Period 1D","v":260},{"sp":"Acetobacter","p":"R2 Period 3B","v":185},{"sp":"Acetobacter","p":"R2 Period 3C","v":150},{"sp":"Acetobacter","p":"R3 Period 1D","v":35},{"sp":"Acetobacter","p":"R3 Period 3B","v":5},{"sp":"Acetobacter","p":"R3 Period 3C","v":5},
{"sp":"Parabacteroides","p":"R1 Period 1D","v":5},{"sp":"Parabacteroides","p":"R1 Period 3B","v":5},{"sp":"Parabacteroides","p":"R1 Period 3C","v":5},{"sp":"Parabacteroides","p":"R2 Period 1D","v":5},{"sp":"Parabacteroides","p":"R2 Period 3B","v":5},{"sp":"Parabacteroides","p":"R2 Period 3C","v":5},{"sp":"Parabacteroides","p":"R3 Period 1D","v":10},{"sp":"Parabacteroides","p":"R3 Period 3B","v":5},{"sp":"Parabacteroides","p":"R3 Period 3C","v":5},
{"sp":"Alistipes","p":"R1 Period 1D","v":5},{"sp":"Alistipes","p":"R1 Period 3B","v":5},{"sp":"Alistipes","p":"R1 Period 3C","v":5},{"sp":"Alistipes","p":"R2 Period 1D","v":5},{"sp":"Alistipes","p":"R2 Period 3B","v":5},{"sp":"Alistipes","p":"R2 Period 3C","v":5},{"sp":"Alistipes","p":"R3 Period 1D","v":5},{"sp":"Alistipes","p":"R3 Period 3B","v":5},{"sp":"Alistipes","p":"R3 Period 3C","v":5},
{"sp":"Prevotella","p":"R1 Period 1D","v":20},{"sp":"Prevotella","p":"R1 Period 3B","v":110},{"sp":"Prevotella","p":"R1 Period 3C","v":205},{"sp":"Prevotella","p":"R2 Period 1D","v":60},{"sp":"Prevotella","p":"R2 Period 3B","v":70},{"sp":"Prevotella","p":"R2 Period 3C","v":60},{"sp":"Prevotella","p":"R3 Period 1D","v":130},{"sp":"Prevotella","p":"R3 Period 3B","v":290},{"sp":"Prevotella","p":"R3 Period 3C","v":160},
{"sp":"Dysgonomonas","p":"R1 Period 1D","v":5},{"sp":"Dysgonomonas","p":"R1 Period 3B","v":15},{"sp":"Dysgonomonas","p":"R1 Period 3C","v":5},{"sp":"Dysgonomonas","p":"R2 Period 1D","v":5},{"sp":"Dysgonomonas","p":"R2 Period 3B","v":5},{"sp":"Dysgonomonas","p":"R2 Period 3C","v":5},{"sp":"Dysgonomonas","p":"R3 Period 1D","v":10},{"sp":"Dysgonomonas","p":"R3 Period 3B","v":10},{"sp":"Dysgonomonas","p":"R3 Period 3C","v":5},
{"sp":"Phocaeicola","p":"R1 Period 1D","v":5},{"sp":"Phocaeicola","p":"R1 Period 3B","v":5},{"sp":"Phocaeicola","p":"R1 Period 3C","v":5},{"sp":"Phocaeicola","p":"R2 Period 1D","v":5},{"sp":"Phocaeicola","p":"R2 Period 3B","v":5},{"sp":"Phocaeicola","p":"R2 Period 3C","v":5},{"sp":"Phocaeicola","p":"R3 Period 1D","v":5},{"sp":"Phocaeicola","p":"R3 Period 3B","v":5},{"sp":"Phocaeicola","p":"R3 Period 3C","v":5},
{"sp":"Bacteroides","p":"R1 Period 1D","v":10},{"sp":"Bacteroides","p":"R1 Period 3B","v":130},{"sp":"Bacteroides","p":"R1 Period 3C","v":140},{"sp":"Bacteroides","p":"R2 Period 1D","v":150},{"sp":"Bacteroides","p":"R2 Period 3B","v":100},{"sp":"Bacteroides","p":"R2 Period 3C","v":140},{"sp":"Bacteroides","p":"R3 Period 1D","v":230},{"sp":"Bacteroides","p":"R3 Period 3B","v":395},{"sp":"Bacteroides","p":"R3 Period 3C","v":265}]
},
"concat":[
{"width":166,"height":41,"data":{"name":"top"},
"title":{"text":"A","anchor":"start","frame":"group","dx":-214,"offset":-16},
"encoding":{
"x":{"field":"p","type":"nominal","sort":["R1 Period 1D","R1 Period 3B","R1 Period 3C","R2 Period 1D","R2 Period 3B","R2 Period 3C","R3 Period 1D","R3 Period 3B","R3 Period 3C"],"axis":{"orient":"top","labels":false,"title":"Total production rate mmol C L⁻¹ d⁻¹","titleFontSize":10,"titleFontWeight":"normal","titleAlign":"left","titleX":2,"titleY":-5,"titleBaseline":"alphabetic"}},
"y":{"field":"r","type":"nominal","sort":["n-Caprylate","n-Caproate"],"axis":{"title":null,"labelFontSize":10.5,"labelPadding":19}}},
"layer":[
{"transform":[{"filter":"datum.r == 'n-Caprylate'"}],"mark":"rect","encoding":{"color":{"field":"v","type":"quantitative","scale":{"domain":[37,46.125,55.25,64.375,73.5,82.625,91.75,100.875,110],"range":["#f7fbff","#deebf7","#c6dbef","#9ecae1","#6baed6","#4292c6","#2171b5","#08519c","#08306b"]},"legend":null}}},
{"transform":[{"filter":"datum.r == 'n-Caproate'"}],"mark":"rect","encoding":{"color":{"field":"v","type":"quantitative","scale":{"domain":[6,9.125,12.25,15.375,18.5,21.625,24.75,27.875,31],"range":["#f7fcf5","#e5f5e0","#c7e9c0","#a1d99b","#74c476","#41ab5d","#238b45","#006d2c","#00441b"]},"legend":null}}},
{"mark":{"type":"text","fontSize":12,"font":"Liberation Serif"},"encoding":{"text":{"field":"v","type":"quantitative"},"color":{"condition":{"test":"(datum.r == 'n-Caprylate' && datum.v > 80) || (datum.r == 'n-Caproate' && datum.v > 10)","value":"#ffffff"},"value":"#000000"}}}
],
"resolve":{"scale":{"color":"independent"}}},
{"width":173,"height":41,"data":{"name":"top"},
"title":{"text":"B","anchor":"start","frame":"group","dx":-116,"offset":-16},
"encoding":{
"x":{"field":"p","type":"nominal","sort":["R1 Period 1D","R1 Period 3B","R1 Period 3C","R2 Period 1D","R2 Period 3B","R2 Period 3C","R3 Period 1D","R3 Period 3B","R3 Period 3C"],"axis":{"orient":"top","labels":false,"title":"Total production rate mmol C L⁻¹ d⁻¹","titleFontSize":10.5,"titleFontWeight":"normal","titleAlign":"left","titleX":14,"titleY":-5,"titleBaseline":"alphabetic"}},
"y":{"field":"r","type":"nominal","sort":["n-Caprylate","n-Caproate"],"axis":{"title":null,"labelFontSize":10.5,"labelPadding":4}}},
"layer":[
{"transform":[{"filter":"datum.r == 'n-Caprylate'"}],"mark":"rect","encoding":{"color":{"field":"v","type":"quantitative","scale":{"domain":[37,46.125,55.25,64.375,73.5,82.625,91.75,100.875,110],"range":["#f7fbff","#deebf7","#c6dbef","#9ecae1","#6baed6","#4292c6","#2171b5","#08519c","#08306b"]},"legend":null}}},
{"transform":[{"filter":"datum.r == 'n-Caproate'"}],"mark":"rect","encoding":{"color":{"field":"v","type":"quantitative","scale":{"domain":[6,9.125,12.25,15.375,18.5,21.625,24.75,27.875,31],"range":["#f7fcf5","#e5f5e0","#c7e9c0","#a1d99b","#74c476","#41ab5d","#238b45","#006d2c","#00441b"]},"legend":null}}},
{"mark":{"type":"text","fontSize":12,"font":"Liberation Serif"},"encoding":{"text":{"field":"v","type":"quantitative"},"color":{"condition":{"test":"(datum.r == 'n-Caprylate' && datum.v > 80) || (datum.r == 'n-Caproate' && datum.v > 10)","value":"#ffffff"},"value":"#000000"}}}
],
"resolve":{"scale":{"color":"independent"}}},
{"width":166,"height":592,"data":{"name":"a"},"mark":"rect",
"encoding":{
"x":{"field":"p","type":"nominal","sort":["R1 Period 1D","R1 Period 3B","R1 Period 3C","R2 Period 1D","R2 Period 3B","R2 Period 3C","R3 Period 1D","R3 Period 3B","R3 Period 3C"],"axis":{"title":null,"labelAngle":270,"labelFontSize":10.2,"labelPadding":3}},
"y":{"field":"sp","type":"nominal","sort":null,"axis":{"title":null,"labelFontSize":9.6,"labelPadding":4,"labelLimit":300,"labelFontStyle":{"condition":{"test":"datum.value == 'Bacteroidaceae bacterium HV4-6-C5C'","value":"normal"},"value":"italic"}}},
"color":{"field":"v","type":"quantitative","scale":{"domain":[0,32,64,96,128,160,192,224,256],"range":["#fff5f0","#fee0d2","#fcbba1","#fc9272","#fb6a4a","#ef3b2c","#cb181d","#a50f15","#67000d"]},"legend":{"orient":"none","legendX":-222,"legendY":10,"direction":"vertical","gradientLength":576,"gradientThickness":25,"gradientStrokeWidth":0,"title":null,"values":[0,50,100,150,200,250],"labelExpr":"datum.value == 0 ? '0' : datum.value + 'k'","labelFontSize":10,"labelOffset":3}}}},
{"width":173,"height":592,"data":{"name":"b"},"mark":"rect",
"encoding":{
"x":{"field":"p","type":"nominal","sort":["R1 Period 1D","R1 Period 3B","R1 Period 3C","R2 Period 1D","R2 Period 3B","R2 Period 3C","R3 Period 1D","R3 Period 3B","R3 Period 3C"],"axis":{"title":null,"labelAngle":270,"labelFontSize":10.2,"labelPadding":3}},
"y":{"field":"sp","type":"nominal","sort":null,"axis":{"title":null,"labelFontSize":10,"labelPadding":4,"labelLimit":300,"labelFontStyle":"italic"}},
"color":{"field":"v","type":"quantitative","scale":{"domain":[0,65.875,131.75,197.625,263.5,329.375,395.25,461.125,527],"range":["#fcfbfd","#efedf5","#dadaeb","#bcbddc","#9e9ac8","#807dba","#6a51a3","#54278f","#3f007d"]},"legend":{"orient":"none","legendX":188,"legendY":10,"direction":"vertical","gradientLength":577,"gradientThickness":25,"gradientStrokeWidth":0,"title":null,"values":[0,100,200,300,400,500],"labelExpr":"datum.value == 0 ? '0' : datum.value + 'k'","labelFontSize":10,"labelOffset":3}}}}
],
"columns":2,
"bounds":"flush",
"spacing":{"row":7,"column":106},
"resolve":{"scale":{"color":"independent"},"legend":{"color":"independent"}}
}
